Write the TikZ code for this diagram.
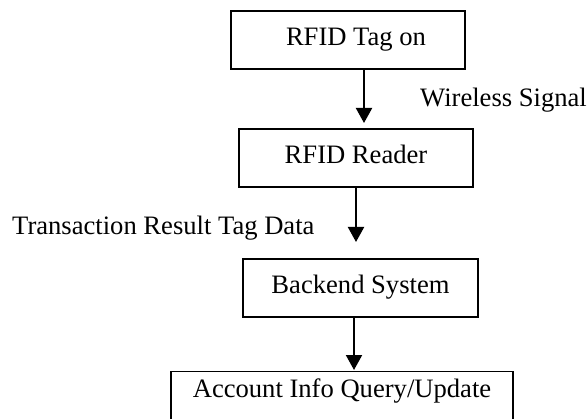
\documentclass[tikz,border=0pt]{standalone}
\usepackage{fontspec}
\setmainfont{Liberation Serif}
\usetikzlibrary{arrows.meta}
\begin{document}
\begin{tikzpicture}[x=1pt,y=-1pt,
  box/.style={draw, line width=1.2pt, inner sep=0pt, text height=17.5pt, text depth=6pt,
              font=\fontsize{26.6}{30}\selectfont},
  lbl/.style={inner sep=0pt, anchor=base west, font=\fontsize{26.6}{30}\selectfont},
  conn/.style={line width=2pt, -{Triangle[width=16pt,length=15pt]}}]
\clip (0,0) rectangle (588,419);
\node[box, minimum width=234pt, minimum height=58pt] (tag) at (348,40) {\hspace*{16pt}RFID Tag on};
\node[box, minimum width=234pt, minimum height=58pt] (reader) at (356,158) {RFID Reader};
\node[box, minimum width=235pt, minimum height=58pt] (backend) at (360.5,288) {Backend System};
\node[box, minimum width=342pt, anchor=north, inner ysep=8.5pt, text depth=30pt] (account) at (342,371) {Account Info Query/Update};
\node[lbl] (wireless) at (420,107) {Wireless Signal};
\node[lbl] (result) at (12,235) {Transaction Result Tag Data};
\coordinate (t1) at (364,123);
\coordinate (t2) at (356,242);
\coordinate (t3) at (354,370);
\draw[conn] (tag.south -| t1) -- (t1);
\draw[conn] (reader.south -| t2) -- (t2);
\draw[conn] (backend.south -| t3) -- (t3);
\end{tikzpicture}
\end{document}
